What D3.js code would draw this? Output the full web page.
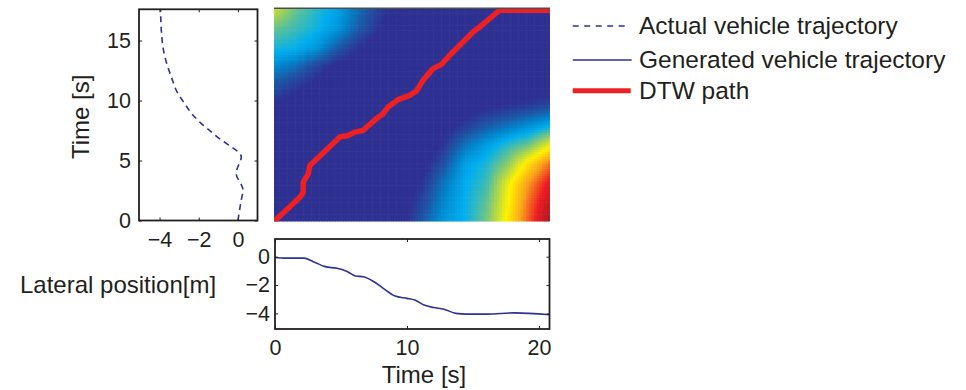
<!DOCTYPE html>
<html>
<head>
<meta charset="utf-8">
<script src="https://cdn.jsdelivr.net/npm/d3@7"></script>
<style>
  html, body { margin: 0; padding: 0; background: #fff; }
  svg { display: block; font-family: "Liberation Sans", Arial, Helvetica, sans-serif; }
</style>
</head>
<body>
<svg id="chart" width="966" height="390"></svg>
<script>
// Actual vehicle trajectory: time [s] and lateral position [m]
const actualTime = [0, 1.71, 2.54, 3.93, 5.32, 6.15, 6.71, 7.4, 8.1, 8.79, 9.77, 10.6, 11.98, 13.23, 14.48, 15.6, 17.6];
const actualPos  = [0, 0.17, 0.26, -0.09, 0.17, -0.34, -0.85, -1.37, -1.88, -2.3, -2.73, -3.07, -3.4, -3.66, -3.83, -3.9, -3.95];

// Generated vehicle trajectory: time [s] and lateral position [m]
const genTime = [0, 0.8, 2.2, 2.9, 3.8, 4.7, 5.5, 6.1, 6.7, 7.5, 8.2, 9.1, 10.0, 10.6, 11.3, 12.0, 12.8, 13.7, 14.5, 16.1, 18.1, 20.8];
const genPos  = [-0.05, -0.1, -0.1, -0.35, -0.7, -0.82, -1.06, -1.36, -1.41, -1.77, -2.23, -2.78, -2.94, -3.06, -3.41, -3.58, -3.7, -4.0, -4.05, -4.05, -3.96, -4.1];

// DTW warping path: generated time vs actual time
const pathGen = [0, 1.95, 2.2, 2.2, 2.58, 2.71, 4.96, 5.59, 6.09, 6.71, 7.72, 8.22, 8.6, 9.35, 10.23, 10.73, 11.23, 11.98, 12.6, 13.24, 15.0, 15.5, 17.0, 20.8];
const pathAct = [0, 2.0, 2.4, 3.25, 3.94, 4.63, 6.97, 7.1, 7.38, 7.52, 8.49, 8.9, 9.45, 10.06, 10.41, 10.77, 11.65, 12.62, 12.95, 13.72, 15.64, 16.06, 17.44, 17.44];

// DTW cost (normalised 0..1) sampled on a coarse grid:
// columns = generated time, rows = actual time (first row is t = 0)
const costGen = [0, 1.6, 3.2, 4.8, 6.4, 8.0, 9.6, 11.2, 12.8, 14.4, 16.0, 17.6, 19.2, 20.8];
const costAct = [0, 1.6, 3.2, 4.8, 6.4, 8.0, 9.6, 11.2, 12.8, 14.4, 16.0, 17.6];
const costRow00 = [0.08, 0.08, 0.08, 0.08, 0.08, 0.08, 0.10, 0.22, 0.33, 0.38, 0.48, 0.64, 0.82, 1.00];
const costRow01 = [0.08, 0.08, 0.08, 0.08, 0.08, 0.08, 0.08, 0.18, 0.30, 0.38, 0.46, 0.62, 0.80, 0.95];
const costRow02 = [0.08, 0.08, 0.08, 0.08, 0.08, 0.08, 0.08, 0.14, 0.27, 0.37, 0.43, 0.60, 0.76, 0.90];
const costRow03 = [0.08, 0.08, 0.08, 0.08, 0.08, 0.08, 0.08, 0.10, 0.20, 0.35, 0.40, 0.50, 0.66, 0.80];
const costRow04 = [0.08, 0.08, 0.08, 0.08, 0.08, 0.08, 0.08, 0.08, 0.14, 0.26, 0.34, 0.41, 0.47, 0.60];
const costRow05 = [0.08, 0.08, 0.08, 0.08, 0.08, 0.08, 0.08, 0.08, 0.10, 0.15, 0.21, 0.26, 0.31, 0.37];
const costRow06 = [0.12, 0.09, 0.08, 0.08, 0.08, 0.08, 0.08, 0.08, 0.08, 0.09, 0.11, 0.13, 0.15, 0.18];
const costRow07 = [0.20, 0.15, 0.10, 0.08, 0.08, 0.08, 0.08, 0.08, 0.08, 0.08, 0.08, 0.08, 0.09, 0.10];
const costRow08 = [0.30, 0.25, 0.17, 0.10, 0.08, 0.08, 0.08, 0.08, 0.08, 0.08, 0.08, 0.08, 0.08, 0.08];
const costRow09 = [0.40, 0.38, 0.33, 0.22, 0.13, 0.08, 0.08, 0.08, 0.08, 0.08, 0.08, 0.08, 0.08, 0.08];
const costRow10 = [0.47, 0.43, 0.39, 0.33, 0.22, 0.13, 0.08, 0.08, 0.08, 0.08, 0.08, 0.08, 0.08, 0.08];
const costRow11 = [0.57, 0.47, 0.41, 0.35, 0.25, 0.16, 0.10, 0.08, 0.08, 0.08, 0.08, 0.08, 0.08, 0.08];
const costRows = [costRow00, costRow01, costRow02, costRow03, costRow04, costRow05,
                  costRow06, costRow07, costRow08, costRow09, costRow10, costRow11];

// Tick values
const leftXTicks = [-4, -2, 0];
const leftYTicks = [0, 5, 10, 15];
const bottomXTicks = [0, 10, 20];
const bottomYTicks = [0, -2, -4];

// Legend entries
const legendLabels = ["Actual vehicle trajectory", "Generated vehicle trajectory", "DTW path"];

// Jet-like colormap (printed tones)
const cmapStops  = [0, 0.13, 0.22, 0.30, 0.375, 0.5, 0.625, 0.75, 0.875, 1.0];
const cmapColors = ["#2e3192", "#2e3192", "#1b5aa8", "#0088cf", "#00aeef", "#8ccb6a", "#fff200", "#f9a11b", "#ed1c24", "#a01d21"];

const INK = "#231f20";
const NAVY = "#2e3192";
const RED = "#ed2024";
const TICK_FONT = 21.5;
const LABEL_FONT = 24;
const FONT = '"Liberation Sans", Arial, Helvetica, sans-serif';

const svg = d3.select("#chart");
svg.append("rect").attr("width", 966).attr("height", 390).attr("fill", "#fff");

// ---------- layout ----------
const L = { x0: 139, x1: 257.5, y0: 9.3, y1: 220.5 };     // left panel box
const B = { x0: 275, x1: 549.5, y0: 239, y1: 329 };       // bottom panel box
const H = { x0: 274, x1: 550, y0: 8.3, y1: 221.5 };       // cost matrix image

const tMaxA = actualTime[actualTime.length - 1];
const tMaxG = genTime[genTime.length - 1];
const fmt = d3.format("d");

function styleAxis(g) {
  g.select(".domain").remove();
  g.selectAll(".tick line").attr("stroke", INK).attr("stroke-width", 1);
  g.selectAll(".tick text").attr("fill", INK).style("font-size", TICK_FONT + "px").style("font-family", FONT);
}

// ---------- left panel: actual trajectory (lateral vs time) ----------
const lx = d3.scaleLinear().domain([-5.05, 1.0]).range([L.x0, L.x1]);
const ly = d3.scaleLinear().domain([0, tMaxA]).range([L.y1, L.y0]);

const gL = svg.append("g");
gL.append("path")
  .datum(d3.range(actualTime.length))
  .attr("fill", "none")
  .attr("stroke", NAVY)
  .attr("stroke-width", 1.6)
  .attr("stroke-dasharray", "6,4.5")
  .attr("d", d3.line().x(i => lx(actualPos[i])).y(i => ly(actualTime[i])).curve(d3.curveMonotoneY));

gL.append("g").attr("transform", `translate(0,${L.y1})`)
  .call(d3.axisBottom(lx).tickValues(leftXTicks).tickFormat(fmt).tickSize(-3).tickPadding(11))
  .call(styleAxis);
gL.append("g").attr("transform", `translate(0,${L.y0})`)
  .call(d3.axisTop(lx).tickValues(leftXTicks).tickSize(-3).tickFormat(""))
  .call(styleAxis);
gL.append("g").attr("transform", `translate(${L.x0},0)`)
  .call(d3.axisLeft(ly).tickValues(leftYTicks).tickFormat(fmt).tickSize(-3).tickPadding(8))
  .call(styleAxis);
gL.append("g").attr("transform", `translate(${L.x1},0)`)
  .call(d3.axisRight(ly).tickValues(leftYTicks).tickSize(-3).tickFormat(""))
  .call(styleAxis);
gL.append("rect")
  .attr("x", L.x0).attr("y", L.y0).attr("width", L.x1 - L.x0).attr("height", L.y1 - L.y0)
  .attr("fill", "none").attr("stroke", INK).attr("stroke-width", 1.8);

svg.append("text")
  .attr("transform", `translate(88.5,${(L.y0 + L.y1) / 2 + 2}) rotate(-90)`)
  .attr("text-anchor", "middle")
  .attr("fill", INK)
  .style("font-size", LABEL_FONT + "px")
  .text("Time [s]");

// ---------- bottom panel: generated trajectory (lateral vs time) ----------
const bx = d3.scaleLinear().domain([0, tMaxG]).range([B.x0, B.x1]);
const by = d3.scaleLinear().domain([-5.1, 1.25]).range([B.y1, B.y0]);

const gB = svg.append("g");
gB.append("path")
  .datum(d3.range(genTime.length))
  .attr("fill", "none")
  .attr("stroke", NAVY)
  .attr("stroke-width", 1.6)
  .attr("d", d3.line().x(i => bx(genTime[i])).y(i => by(genPos[i])).curve(d3.curveMonotoneX));

gB.append("g").attr("transform", `translate(0,${B.y1})`)
  .call(d3.axisBottom(bx).tickValues(bottomXTicks).tickFormat(fmt).tickSize(-3).tickPadding(10.5))
  .call(styleAxis);
gB.append("g").attr("transform", `translate(0,${B.y0})`)
  .call(d3.axisTop(bx).tickValues(bottomXTicks).tickSize(-3).tickFormat(""))
  .call(styleAxis);
gB.append("g").attr("transform", `translate(${B.x0},0)`)
  .call(d3.axisLeft(by).tickValues(bottomYTicks).tickFormat(fmt).tickSize(-3).tickPadding(5))
  .call(styleAxis);
gB.append("g").attr("transform", `translate(${B.x1},0)`)
  .call(d3.axisRight(by).tickValues(bottomYTicks).tickSize(-3).tickFormat(""))
  .call(styleAxis);
gB.append("rect")
  .attr("x", B.x0).attr("y", B.y0).attr("width", B.x1 - B.x0).attr("height", B.y1 - B.y0)
  .attr("fill", "none").attr("stroke", INK).attr("stroke-width", 1.8);

svg.append("text")
  .attr("x", 424).attr("y", 383)
  .attr("text-anchor", "middle").attr("fill", INK)
  .style("font-size", LABEL_FONT + "px")
  .text("Time [s]");

svg.append("text")
  .attr("x", 20).attr("y", 293)
  .attr("fill", INK)
  .style("font-size", LABEL_FONT + "px")
  .text("Lateral position[m]");

// ---------- DTW cost matrix (interpolated shading) ----------
const hx = d3.scaleLinear().domain([0, tMaxG]).range([H.x0, H.x1]);
const hy = d3.scaleLinear().domain([0, tMaxA]).range([H.y1, H.y0]);

// bilinear lookup of the sampled cost grid
function costAt(tg, ta) {
  const cj = Math.min(costGen.length - 2, Math.max(0, d3.bisectRight(costGen, tg) - 1));
  const ci = Math.min(costAct.length - 2, Math.max(0, d3.bisectRight(costAct, ta) - 1));
  const u = (tg - costGen[cj]) / (costGen[cj + 1] - costGen[cj]);
  const v = (ta - costAct[ci]) / (costAct[ci + 1] - costAct[ci]);
  const r0 = costRows[ci], r1 = costRows[ci + 1];
  const a = r0[cj] + (r0[cj + 1] - r0[cj]) * u;
  const b = r1[cj] + (r1[cj + 1] - r1[cj]) * u;
  return a + (b - a) * v;
}

const step = 0.2;
const nG = Math.round(tMaxG / step);
const nA = Math.round(tMaxA / step);
const cells = [];
for (let i = 0; i < nA; i++) {
  for (let j = 0; j < nG; j++) {
    cells.push({ i, j, v: costAt((j + 0.5) * step, (i + 0.5) * step) });
  }
}
const color = d3.scaleLinear()
  .domain(cmapStops)
  .range(cmapColors)
  .interpolate(d3.interpolateRgb)
  .clamp(true);

svg.append("defs").append("clipPath").attr("id", "heatClip")
  .append("rect").attr("x", H.x0).attr("y", H.y0).attr("width", H.x1 - H.x0).attr("height", H.y1 - H.y0);

const gH = svg.append("g").attr("clip-path", "url(#heatClip)");
gH.selectAll("rect.cell")
  .data(cells)
  .join("rect")
  .attr("class", "cell")
  .attr("x", d => hx(d.j * step))
  .attr("y", d => hy((d.i + 1) * step))
  .attr("width", hx(step) - hx(0) + 0.6)
  .attr("height", hy(0) - hy(step) + 0.6)
  .attr("fill", d => color(d.v));

gH.append("path")
  .datum(d3.range(pathGen.length))
  .attr("fill", "none")
  .attr("stroke", RED)
  .attr("stroke-width", 5.5)
  .attr("stroke-linejoin", "round")
  .attr("d", d3.line().x(i => hx(pathGen[i])).y(i => hy(pathAct[i])));

svg.append("line")
  .attr("x1", H.x0).attr("x2", H.x1).attr("y1", H.y0).attr("y2", H.y0)
  .attr("stroke", "#4d4d4f").attr("stroke-width", 1.5);

// ---------- legend ----------
const legendStyles = [
  { stroke: NAVY, width: 1.6, dash: "6,5.5", x2: 629.3, y: 26, ty: 34.3 },
  { stroke: NAVY, width: 1.6, dash: null, x2: 631.7, y: 60, ty: 68.3 },
  { stroke: RED, width: 5, dash: null, x2: 630.7, y: 90.7, ty: 99.3 }
];
const gLeg = svg.append("g");
legendLabels.forEach((label, k) => {
  const s = legendStyles[k];
  gLeg.append("line")
    .attr("x1", 572.7).attr("x2", s.x2).attr("y1", s.y).attr("y2", s.y)
    .attr("stroke", s.stroke).attr("stroke-width", s.width)
    .attr("stroke-dasharray", s.dash);
  gLeg.append("text")
    .attr("x", 639).attr("y", s.ty)
    .attr("fill", INK)
    .style("font-size", "24.5px")
    .text(label);
});
</script>
</body>
</html>
